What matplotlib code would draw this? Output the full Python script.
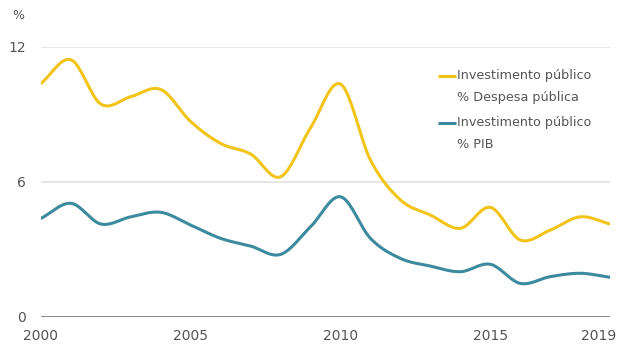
import numpy as np
import matplotlib.pyplot as plt
import matplotlib.transforms as mtransforms
from matplotlib.lines import Line2D

# Investimento público, 2000-2019
years = list(range(2000, 2020))
despesa = [10.37, 11.42, 9.45, 9.78, 10.1, 8.67, 7.7, 7.23, 6.22, 8.4,
           10.34, 6.96, 5.19, 4.52, 3.93, 4.86, 3.41, 3.85, 4.44, 4.12]
pib = [4.37, 5.04, 4.12, 4.44, 4.64, 4.07, 3.48, 3.14, 2.77, 4.0,
       5.33, 3.48, 2.59, 2.25, 2.0, 2.33, 1.48, 1.78, 1.93, 1.75]

yticks = [0, 6, 12]
xticks = [2000, 2005, 2010, 2015, 2019]

YELLOW = '#f2c417'
TEAL = '#3b8a9d'
GREY = '#555555'


def smooth(x, y, n=20):
    # curva Catmull-Rom a passar pelos pontos anuais
    x = np.asarray(x, float)
    y = np.asarray(y, float)
    px = np.concatenate([[2 * x[0] - x[1]], x, [2 * x[-1] - x[-2]]])
    py = np.concatenate([[2 * y[0] - y[1]], y, [2 * y[-1] - y[-2]]])
    t = np.linspace(0, 1, n, endpoint=False)
    xs, ys = [], []
    for i in range(1, len(px) - 2):
        for p, out in ((px, xs), (py, ys)):
            p0, p1, p2, p3 = p[i - 1], p[i], p[i + 1], p[i + 2]
            out.extend(0.5 * (2 * p1 + (-p0 + p2) * t
                              + (2 * p0 - 5 * p1 + 4 * p2 - p3) * t ** 2
                              + (-p0 + 3 * p1 - 3 * p2 + p3) * t ** 3))
    xs.append(x[-1])
    ys.append(y[-1])
    return np.array(xs), np.array(ys)


fig = plt.figure(figsize=(6.18, 3.47), dpi=100)
ax = fig.add_axes([0.0663, 0.0873, 0.921, 0.778])

for v in yticks[1:]:
    ax.axhline(v, color='#e3e3e3', lw=1.2, zorder=0)
ax.axhline(0, color='#8a8a8a', lw=1.4, zorder=0)

sx, sy = smooth(years, despesa)
ax.plot(sx, sy, color=YELLOW, lw=2.2, solid_capstyle='round')
sx, sy = smooth(years, pib)
ax.plot(sx, sy, color=TEAL, lw=2.2, solid_capstyle='round')

ax.set_xlim(2000, 2019)
ax.set_ylim(0, 12)
for s in ax.spines.values():
    s.set_visible(False)
ax.set_xticks(xticks)
ax.set_yticks(yticks)
ax.tick_params(length=0, colors=GREY, labelsize=10)
ax.tick_params(axis='x', pad=9)
ax.tick_params(axis='y', pad=11)

# o último ano fica encostado à margem direita
last = ax.get_xticklabels()[-1]
last.set_transform(last.get_transform()
                   + mtransforms.ScaledTranslation(-12 / 100, 0, fig.dpi_scale_trans))

fig.text(0.02, 0.955, '%', color=GREY, fontsize=9, va='center')

# legenda
legend = [(YELLOW, 'Investimento público', '% Despesa pública', 0.781),
          (TEAL, 'Investimento público', '% PIB', 0.646)]
for color, l1, l2, y in legend:
    fig.add_artist(Line2D([0.709, 0.738], [y, y], color=color, lw=2.2,
                          solid_capstyle='butt'))
    fig.text(0.739, y, l1, color=GREY, fontsize=9.2, va='center')
    fig.text(0.739, y - 0.063, l2, color=GREY, fontsize=9.2, va='center')

fig.savefig('out.png', dpi=100, facecolor='white')
